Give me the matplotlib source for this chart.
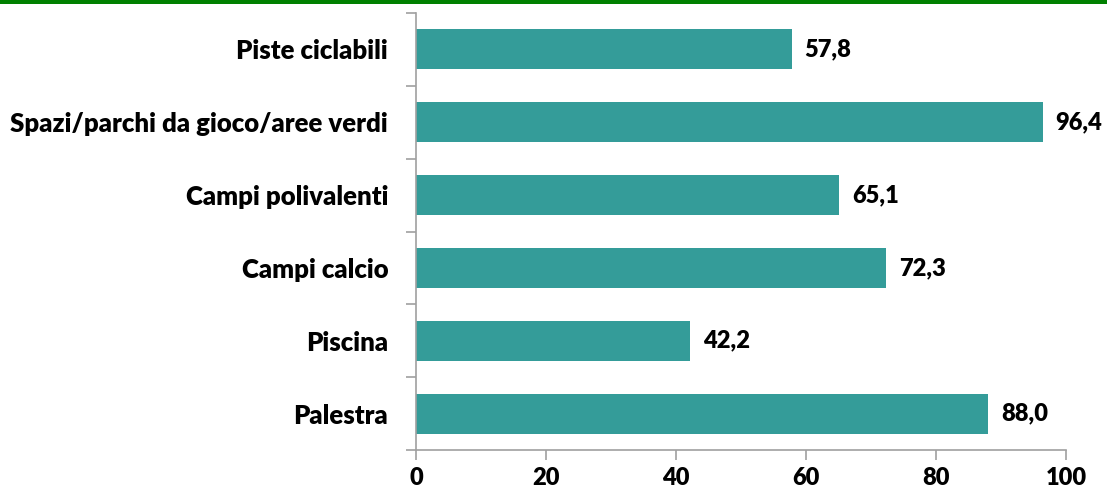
import matplotlib
matplotlib.use("Agg")
import matplotlib.pyplot as plt
from matplotlib.patches import Rectangle

categories = ["Piste ciclabili", "Spazi/parchi da gioco/aree verdi", "Campi polivalenti",
              "Campi calcio", "Piscina", "Palestra"]
values = [57.8, 96.4, 65.1, 72.3, 42.2, 88.0]
xticks = [0, 20, 40, 60, 80, 100]

plt.rcParams['font.family'] = ['Lato', 'DejaVu Sans']

fig = plt.figure(figsize=(11.07, 4.93), dpi=100)
ax = fig.add_axes([416/1107, 1-450/493, 650/1107, 437/493])
fig.add_artist(Rectangle((0, 1-4/493), 1, 4/493, transform=fig.transFigure,
                         color='#008000', lw=0))

n = len(categories)
ypos = list(range(n))[::-1]
ax.barh(ypos, values, height=0.55, color='#349C99')
ax.set_ylim(-0.5, n-0.5)
ax.set_xlim(0, 100)
for y, v in zip(ypos, values):
    ax.text(v + 2.0, y, f"{v:.1f}".replace('.', ','), va='center', ha='left',
            fontsize=17, fontweight='heavy', color='black')

ax.set_yticks(ypos)
ax.set_yticklabels(categories, fontsize=18.5, fontweight='heavy')
ax.set_yticks([i - 0.5 for i in range(n+1)], minor=True)
ax.tick_params(axis='y', which='major', length=0, pad=20)
ax.tick_params(axis='y', which='minor', length=7, color='#A0A0A0', width=1.2)
ax.set_xticks(xticks)
ax.set_xticklabels([str(t) for t in xticks], fontsize=17, fontweight='heavy')
ax.tick_params(axis='x', length=7, color='#A0A0A0', width=1.2, pad=5)
for s in ['top', 'right']:
    ax.spines[s].set_visible(False)
for s in ['left', 'bottom']:
    ax.spines[s].set_color('#A0A0A0')
    ax.spines[s].set_linewidth(1.2)

fig.savefig("out.png", dpi=100)
